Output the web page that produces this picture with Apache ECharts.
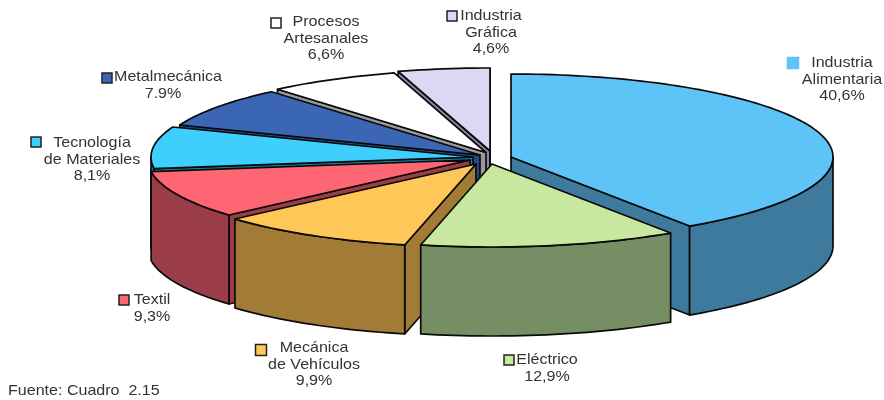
<!DOCTYPE html>
<html>
<head>
<meta charset="utf-8">
<style>html,body{margin:0;padding:0;background:#fff}#c{width:884px;height:400px;filter:blur(0.55px)}</style>
<script src="https://cdn.jsdelivr.net/npm/echarts@6/dist/echarts.min.js"></script>
</head>
<body>
<div id="c"></div>
<script>
// Data, clockwise from 12 o'clock
const categories = ['Industria\nAlimentaria', 'Eléctrico', 'Mecánica\nde Vehículos', 'Textil',
  'Tecnología\nde Materiales', 'Metalmecánica', 'Procesos\nArtesanales', 'Industria\nGráfica'];
const shares = [40.6, 12.9, 9.9, 9.3, 8.1, 7.9, 6.6, 4.6];
const shareLabels = ['40,6%', '12,9%', '9,9%', '9,3%', '8,1%', '7.9%', '6,6%', '4,6%'];
const sourceNote = 'Fuente: Cuadro  2.15';

// Style and layout
const topColors = ['#5EC4F8', '#C8E8A0', '#FFC658', '#FF6673', '#3ECFFF', '#3A66B5', '#FFFFFF', '#DCD8F4'];
const wallColors = ['#3E7A9E', '#768E64', '#A27C37', '#9A3D48', '#0F7F9A', '#234A82', '#999999', '#8A88A8'];
const pullX = [24, 5, -11, -17, -14, -7, -1, 3];   // explosion of each slice from the pie's centre
const pullY = [0, 7, 7, 3, 0, -2, -4.5, -6];
const PIE = { cx: 487, cy: 157, rx: 322, ry: 83, depth: 89 };
const FONT = '15px "Liberation Sans"';
const TEXT_STRETCH = 1.07;
const labelSpots = [
  { x: 842, y: 63, kx: 793, ky: 63, n: 11, pctDx: 0 },
  { x: 547, y: 360, kx: 509, ky: 360, n: 10, pctDx: 0 },
  { x: 314, y: 348, kx: 261, ky: 350, n: 11, pctDx: 0 },
  { x: 152, y: 300, kx: 124, ky: 300, n: 10, pctDx: 0 },
  { x: 92, y: 143, kx: 36, ky: 142, n: 10, pctDx: 0 },
  { x: 168, y: 77, kx: 107, ky: 78, n: 10, pctDx: -5 },
  { x: 326, y: 22, kx: 276, ky: 23, n: 10, pctDx: 0 },
  { x: 491, y: 16, kx: 452, ky: 16, n: 10, pctDx: 0 }
];

const total = shares.reduce((a, b) => a + b, 0);
const rad = d => d * Math.PI / 180;
const startAngles = [];
shares.reduce((acc, v, i) => { startAngles[i] = acc; return acc + v / total * 360; }, 0);

function rimPoint(a, ax, ay, drop) {
  return [ax + PIE.rx * Math.sin(rad(a)), ay - PIE.ry * Math.cos(rad(a)) + drop];
}
function arc(from, to, ax, ay, drop) {
  const n = Math.max(2, Math.ceil((to - from) / 1.5));
  const out = [];
  for (let k = 0; k <= n; k++) out.push(rimPoint(from + (to - from) * k / n, ax, ay, drop));
  return out;
}

function renderItem(params, api) {
  const i = api.value(1);
  const v = api.value(0);
  const a0 = startAngles[i];
  const a1 = a0 + v / total * 360;
  const mid = rad((a0 + a1) / 2);
  const ax = PIE.cx + pullX[i];
  const ay = PIE.cy + pullY[i];
  const z2 = Math.round((1 - Math.cos(mid)) * 100);
  const style = fill => ({ fill: fill, stroke: '#0a0a0a', lineWidth: 1.7, lineJoin: 'round' });
  const poly = (points, fill, z) => ({
    type: 'polygon', shape: { points: points }, style: style(fill), z2: z2 + z, silent: true
  });
  const radialWall = a => {
    const p = rimPoint(a, ax, ay, 0);
    return poly([[ax, ay], p, [p[0], p[1] + PIE.depth], [ax, ay + PIE.depth]], wallColors[i], 0);
  };
  const children = [];
  if (Math.sin(rad(a0)) < 0) children.push(radialWall(a0));
  if (Math.sin(rad(a1)) > 0) children.push(radialWall(a1));
  const w0 = Math.max(a0, 90), w1 = Math.min(a1, 270);
  if (w1 > w0) {
    children.push(poly(arc(w0, w1, ax, ay, 0).concat(arc(w0, w1, ax, ay, PIE.depth).reverse()), wallColors[i], 1));
  }
  children.push(poly([[ax, ay]].concat(arc(a0, a1, ax, ay, 0)), topColors[i], 2));
  return { type: 'group', children: children };
}

const graphics = [];
categories.forEach((name, i) => {
  const s = labelSpots[i];
  const lines = name.split('\n').concat(shareLabels[i]);
  graphics.push({
    type: 'rect', shape: { x: s.kx - s.n / 2, y: s.ky - s.n / 2, width: s.n, height: s.n },
    style: { fill: topColors[i], stroke: i === 0 ? topColors[i] : '#222', lineWidth: 1.5 }
  });
  lines.forEach((t, j) => graphics.push({
    type: 'text', x: s.x + (j === lines.length - 1 ? s.pctDx : 0), y: s.y + j * 16.5, scaleX: TEXT_STRETCH,
    style: { text: t, font: FONT, fill: '#333', textAlign: 'center', textVerticalAlign: 'middle' }
  }));
});
graphics.push({
  type: 'text', x: 8, y: 391, scaleX: TEXT_STRETCH,
  style: { text: sourceNote, font: FONT, fill: '#333', textAlign: 'left', textVerticalAlign: 'middle' }
});

const chart = echarts.init(document.getElementById('c'), null, { renderer: 'canvas' });
chart.setOption({
  animation: false,
  backgroundColor: '#fff',
  series: [{
    type: 'custom',
    coordinateSystem: 'none',
    renderItem: renderItem,
    dimensions: ['share', 'index'],
    encode: { value: 0 },
    data: shares.map((v, i) => [v, i])
  }],
  graphic: graphics
});
</script>
</body>
</html>
